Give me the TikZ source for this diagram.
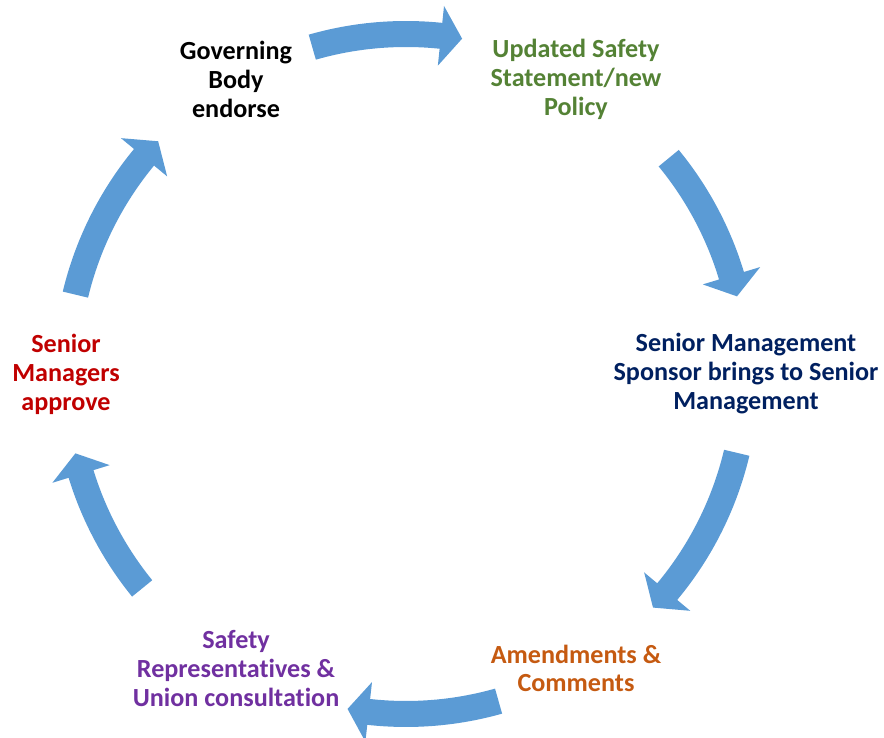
\documentclass[tikz,border=0pt]{standalone}
\usepackage{fontspec}
\setmainfont{Carlito}[Ligatures=NoCommon]
\usepackage{tikz}
\usetikzlibrary{calc}
\definecolor{arrowblue}{RGB}{91,155,213}
\definecolor{policygreen}{RGB}{84,130,53}
\definecolor{mgmtnavy}{RGB}{0,32,96}
\definecolor{amendorange}{RGB}{197,90,17}
\definecolor{unionpurple}{RGB}{112,48,160}
\definecolor{approvered}{RGB}{192,0,0}
% curved arrow on the circle round (O), from angle #1 to angle #2
\newcommand{\CycleArrow}[2]{
\pgfmathsetmacro{\neck}{#2+3.6}
\fill [arrowblue] ($(O)+(#1:8.825)$) arc [start angle=#1,end angle=\neck,radius=8.825]
 -- ($(O)+(\neck:9.25)$) -- ($(O)+(#2:8.5)$) -- ($(O)+(\neck:7.75)$)
 -- ($(O)+(\neck:8.175)$) arc [start angle=\neck,end angle=#1,radius=8.175] -- cycle;
}

\begin{document}
\begin{tikzpicture}[lbl/.style={align=center,font=\fontsize{18.6}{20.6}\selectfont\bfseries}]
\useasboundingbox (0,0) rectangle (22.1,18.45);
\coordinate (O) at (10.15,9.1);
\node[lbl,text=black] (govern) at ($(O)+(120:8.5)$) {Governing\\Body\\endorse};
\node[lbl,text=policygreen] (policy) at ($(O)+(60:8.5)$) {Updated Safety\\Statement/new\\Policy};
\node[lbl,text=mgmtnavy] (sponsor) at ($(O)+(0:8.5)$) {Senior Management\\Sponsor brings to Senior\\Management};
\node[lbl,text=amendorange] (amend) at ($(O)+(-60:8.5)$) {Amendments \&\\Comments};
\node[lbl,text=unionpurple] (union) at ($(O)+(-120:8.5)$) {Safety\\Representatives \&\\Union consultation};
\node[lbl,text=approvered] (approve) at ($(O)+(180:8.5)$) {Senior\\Managers\\approve};
\foreach \a/\b in {106/80.5,39.4/13.2,-13.4/-43.4,-74.2/-99.9,219.1/193.5,166.5/136.8}
 \CycleArrow{\a}{\b};
\end{tikzpicture}
\end{document}
